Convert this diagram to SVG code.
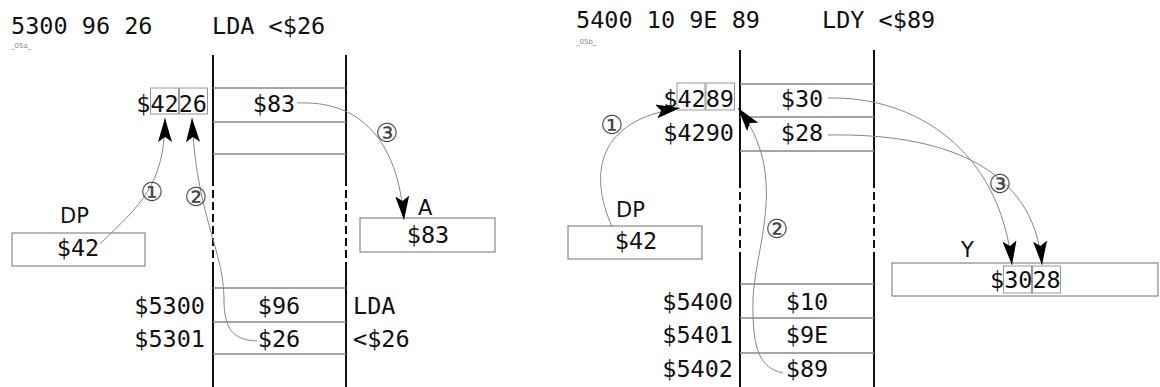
<svg xmlns="http://www.w3.org/2000/svg" width="1160" height="387" viewBox="0 0 1160 387">
<style>
.mono{font-family:"DejaVu Sans Mono","Liberation Mono",monospace;font-size:23.5px;fill:#111}
.sans{font-family:"DejaVu Sans","Liberation Sans",sans-serif;font-size:21px;fill:#111}
.tiny{font-family:"DejaVu Sans","Liberation Sans",sans-serif;font-size:7px;fill:#888}
.num{font-family:"DejaVu Sans","Noto Sans CJK JP",sans-serif;font-size:26px;fill:#444}
.vl{stroke:#111;stroke-width:2;fill:none}
.vd{stroke:#111;stroke-width:2;fill:none;stroke-dasharray:8 4}
.row{stroke:#888;stroke-width:1.5;fill:none}
.box{stroke:#888;stroke-width:1.2;fill:#fff}
.hb{stroke:#999;stroke-width:1;fill:none}
.arr{stroke:#888;stroke-width:1;fill:none;marker-end:url(#ah)}
.mid{text-anchor:middle}
.end{text-anchor:end}
</style>
<defs>
<marker id="ah" markerUnits="userSpaceOnUse" markerWidth="26" markerHeight="14" refX="24" refY="7" orient="auto" viewBox="0 0 26 14">
<path d="M0,0 L24,7 L0,14 L5,7 z" fill="#000"/>
</marker>
</defs>
<rect width="1160" height="387" fill="#fff"/>

<g id="header-left">
<text class="mono" x="11" y="34">5300 96 26</text>
<text class="mono" x="212" y="34">LDA &lt;$26</text>
<text class="tiny" x="11" y="48">_05a_</text>
</g>

<g id="memory-left">
<path class="vl" d="M213,55 V178 M346,55 V178 M213,262 V387 M346,262 V387"/>
<path class="vd" d="M213,178 V262 M346,178 V262"/>
<path class="row" d="M213,88 H346 M213,122 H346 M213,154 H346 M213,288 H346 M213,322 H346 M213,354 H346"/>
<text class="mono mid" x="274" y="112">$83</text>
<text class="mono mid" x="279" y="314">$96</text>
<text class="mono mid" x="279" y="347">$26</text>
<text class="mono end" x="205" y="314">$5300</text>
<text class="mono end" x="205" y="347">$5301</text>
<text class="mono" x="353" y="314">LDA</text>
<text class="mono" x="353" y="347">&lt;$26</text>
</g>

<g id="addr-left">
<rect class="hb" x="150.5" y="88" width="28" height="26"/>
<rect class="hb" x="179.5" y="88" width="28" height="26"/>
<text class="mono end" x="207" y="112">$4226</text>
</g>

<g id="dp-left">
<text class="sans" x="60" y="223">DP</text>
<rect class="box" x="12" y="233" width="133" height="33"/>
<text class="mono mid" x="78" y="256">$42</text>
</g>

<g id="reg-a">
<text class="sans" x="418" y="215">A</text>
<rect class="box" x="360" y="218" width="135" height="34"/>
<text class="mono mid" x="428" y="243">$83</text>
</g>

<g id="header-right">
<text class="mono" x="576" y="28">5400 10 9E 89</text>
<text class="mono" x="822" y="28">LDY &lt;$89</text>
<text class="tiny" x="576" y="44">_05b_</text>
</g>

<g id="memory-right">
<path class="vl" d="M740,50 V180 M874,50 V180 M740,260 V387 M874,260 V387"/>
<path class="vd" d="M740,180 V260 M874,180 V260"/>
<path class="row" d="M740,84 H874 M740,117 H874 M740,151 H874 M740,284 H874 M740,318 H874 M740,353 H874"/>
<text class="mono mid" x="802" y="107">$30</text>
<text class="mono mid" x="802" y="141">$28</text>
<text class="mono mid" x="807" y="310">$10</text>
<text class="mono mid" x="807" y="343">$9E</text>
<text class="mono mid" x="807" y="377">$89</text>
<text class="mono end" x="733" y="310">$5400</text>
<text class="mono end" x="733" y="343">$5401</text>
<text class="mono end" x="733" y="377">$5402</text>
</g>

<g id="addr-right">
<rect class="hb" x="677" y="83" width="28" height="27"/>
<rect class="hb" x="706" y="83" width="28.5" height="27"/>
<text class="mono end" x="734" y="107">$4289</text>
<text class="mono end" x="734" y="141">$4290</text>
</g>

<g id="dp-right">
<text class="sans" x="616" y="217">DP</text>
<rect class="box" x="568" y="226" width="134" height="33"/>
<text class="mono mid" x="636" y="249">$42</text>
</g>

<g id="reg-y">
<text class="sans" x="961" y="257">Y</text>
<rect class="box" x="892" y="263" width="266" height="33"/>
<rect class="hb" x="1003.5" y="266" width="28" height="27"/>
<rect class="hb" x="1032.5" y="266" width="28" height="27"/>
<text class="mono" x="990" y="288">$3028</text>
</g>

<g id="connectors">
<path class="arr" d="M100,244 C140,205 165,185 165,118"/>
<path class="arr" d="M257,341 C234,340 224,330 224,300 C224,250 196,215 192,118"/>
<path class="arr" d="M297,103 C360,100 398,140 404,220"/>
<path class="arr" d="M612,227 C588,172 598,120 680,108"/>
<path class="arr" d="M783,373 C760,368 752,350 753,300 C755,245 790,175 738,108"/>
<path class="arr" d="M828,98 C915,96 1000,150 1012,265"/>
<path class="arr" d="M828,135 C940,133 1034,165 1042,265"/>
<text class="num mid" x="152" y="201">①</text>
<text class="num mid" x="196" y="206">②</text>
<text class="num mid" x="387" y="142">③</text>
<text class="num mid" x="612" y="134">①</text>
<text class="num mid" x="777" y="238">②</text>
<text class="num mid" x="1000" y="193">③</text>
</g>
</svg>
